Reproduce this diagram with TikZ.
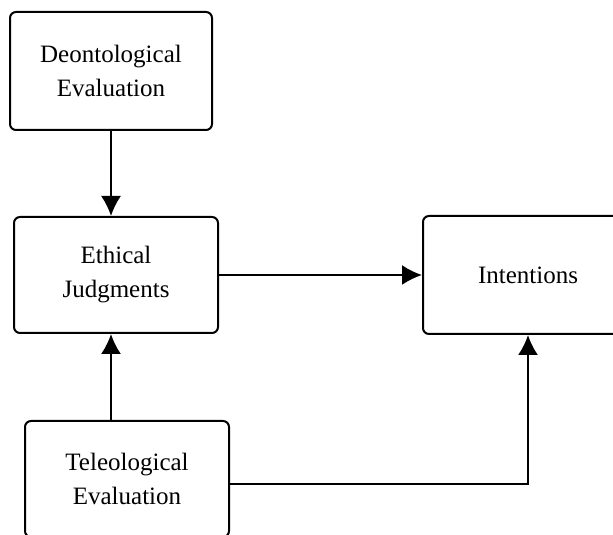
\documentclass[tikz,border=0pt]{standalone}
\usepackage{fontspec}
\setmainfont{Liberation Serif}
\usetikzlibrary{arrows.meta,calc}
\begin{document}
\begin{tikzpicture}[x=1pt,y=1pt,
  box/.style={draw=black,line width=2pt,rounded corners=6pt,align=center,
    inner sep=0pt,font=\fontsize{25}{34}\selectfont},
  arr/.style={line width=2pt,-{Latex[length=20pt,width=20pt]}},
  conn/.style={line width=2pt}]
\useasboundingbox (0,0) rectangle (613,535);
\clip (0,0) rectangle (613,535);
\fill[white] (0,0) rectangle (613,535);
\node[box,minimum width=202pt,minimum height=118pt] (deon) at (111,464) {Deontological\\Evaluation};
\node[box,minimum width=204pt,minimum height=116pt] (eth) at (116,260) {Ethical\\Judgments};
\node[box,minimum width=210pt,minimum height=118pt] (int) at (528,260) {Intentions};
\node[box,minimum width=204pt,minimum height=116pt] (tel) at (127,56) {Teleological\\Evaluation};
\draw[arr] (deon.south) -- (deon.south |- eth.north);
\draw[arr] (eth.east) -- (int.west);
\draw[arr] (tel.north -| deon.south) -- (deon.south |- eth.south);
\draw[arr] ([yshift=-5pt]tel.east) -| (int.south);
\end{tikzpicture}
\end{document}
